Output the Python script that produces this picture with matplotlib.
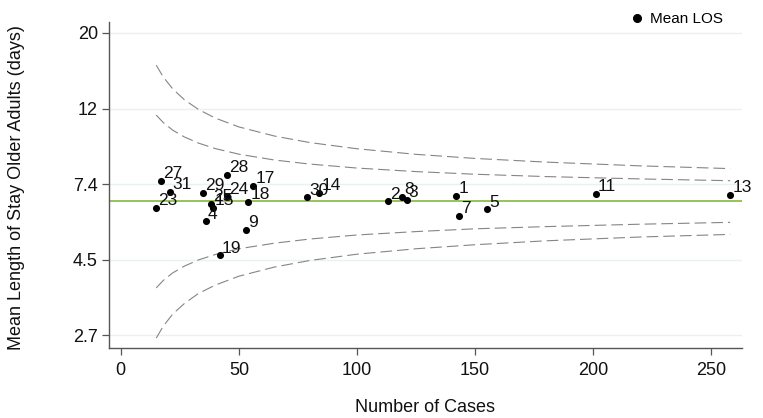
import numpy as np
import matplotlib
matplotlib.use("Agg")
import matplotlib.pyplot as plt
from matplotlib.lines import Line2D

# ---- data ----
unit_labels = ['1', '2', '3', '4', '5', '7', '8', '9', '11', '13', '14', '15',
               '17', '18', '19', '23', '24', '25', '27', '28', '29', '30', '31']
n_cases = [142, 113, 121, 36, 155, 143, 119, 53, 201, 258, 84, 39,
           56, 54, 42, 15, 45, 38, 17, 45, 35, 79, 21]
mean_los = [6.84, 6.59, 6.65, 5.78, 6.25, 5.98, 6.79, 5.47, 6.94, 6.87, 6.98, 6.33,
            7.29, 6.56, 4.61, 6.32, 6.82, 6.50, 7.55, 7.84, 6.96, 6.77, 7.02]

overall_mean = 6.59

# control-limit curves (read at several case counts)
limit_n = [15, 18, 22, 27, 33, 40, 50, 65, 80, 100, 125, 150, 180, 220, 258]
upper_998 = [16.23, 15.00, 13.87, 12.90, 12.10, 11.44, 10.79, 10.16, 9.73, 9.34,
             9.00, 8.76, 8.55, 8.34, 8.19]
upper_95 = [11.67, 11.10, 10.56, 10.09, 9.69, 9.35, 9.01, 8.67, 8.44, 8.22,
            8.03, 7.89, 7.77, 7.65, 7.56]
lower_95 = [3.72, 3.91, 4.11, 4.30, 4.48, 4.64, 4.82, 5.00, 5.14, 5.28,
            5.40, 5.50, 5.58, 5.67, 5.74]
lower_998 = [2.67, 2.89, 3.13, 3.36, 3.59, 3.79, 4.02, 4.27, 4.46, 4.65,
             4.82, 4.95, 5.08, 5.21, 5.30]

ytick_vals = [2.718, 4.482, 7.389, 12.18, 20.09]
ytick_labels = ['2.7', '4.5', '7.4', '12', '20']
xtick_vals = [0, 50, 100, 150, 200, 250]

# ---- styling ----
FONT = ['Liberation Sans', 'DejaVu Sans']
plt.rcParams['font.family'] = FONT

fig = plt.figure(figsize=(7.63, 4.18), dpi=100)
W, H = 763, 418
ax = fig.add_axes([109 / W, 1 - 348 / H, (742 - 109) / W, (348 - 22) / H])

ax.set_yscale('log')
ax.set_xlim(-5, 263)
ax.set_ylim(2.50, 21.6)

# grid lines
for v in ytick_vals:
    ax.axhline(v, color='#e9f1f3', lw=1.0, zorder=0)

# control limits
dash_kw = dict(color='#858585', lw=0.8, dashes=(10.5, 4.5), zorder=1)
for curve in (upper_998, upper_95, lower_95, lower_998):
    ax.plot(limit_n, curve, **dash_kw)

# mean line
ax.axhline(overall_mean, color='#8dbf4a', lw=1.3, zorder=2)

# points
ax.scatter(n_cases, mean_los, s=26, color='black', zorder=3, linewidths=0)
for lab, x, y in zip(unit_labels, n_cases, mean_los):
    ax.annotate(lab, (x, y), xytext=(1.5, 2.0), textcoords='offset points',
                ha='left', va='baseline', fontsize=12.5, color='#111111', zorder=4)

# axes
ax.set_yticks(ytick_vals)
ax.set_yticklabels(ytick_labels)
ax.yaxis.set_minor_locator(matplotlib.ticker.NullLocator())
ax.set_xticks(xtick_vals)
ax.tick_params(axis='both', labelsize=13, color='#555555', length=5,
               width=0.9, labelcolor='#111111')
ax.tick_params(axis='x', pad=5)
ax.tick_params(axis='y', pad=3)

for s in ('top', 'right'):
    ax.spines[s].set_visible(False)
for s in ('left', 'bottom'):
    ax.spines[s].set_color('#555555')
    ax.spines[s].set_linewidth(1.0)

fig.text(425 / W, 1 - 407 / H, 'Number of Cases', ha='center', va='center',
         fontsize=13, color='#111111')
fig.text(17 / W, 1 - 188 / H, 'Mean Length of Stay Older Adults (days)',
         ha='center', va='center', rotation=90, fontsize=13, color='#111111')

# legend
h = Line2D([], [], marker='o', color='black', linestyle='none', markersize=5.5)
fig.legend(handles=[h], labels=['Mean LOS'], loc='center left',
           bbox_to_anchor=(629 / W, 1 - 19 / H), frameon=False, fontsize=11,
           handlelength=1.0, handletextpad=0.4, borderpad=0, borderaxespad=0)

fig.savefig('out.png', dpi=100)
